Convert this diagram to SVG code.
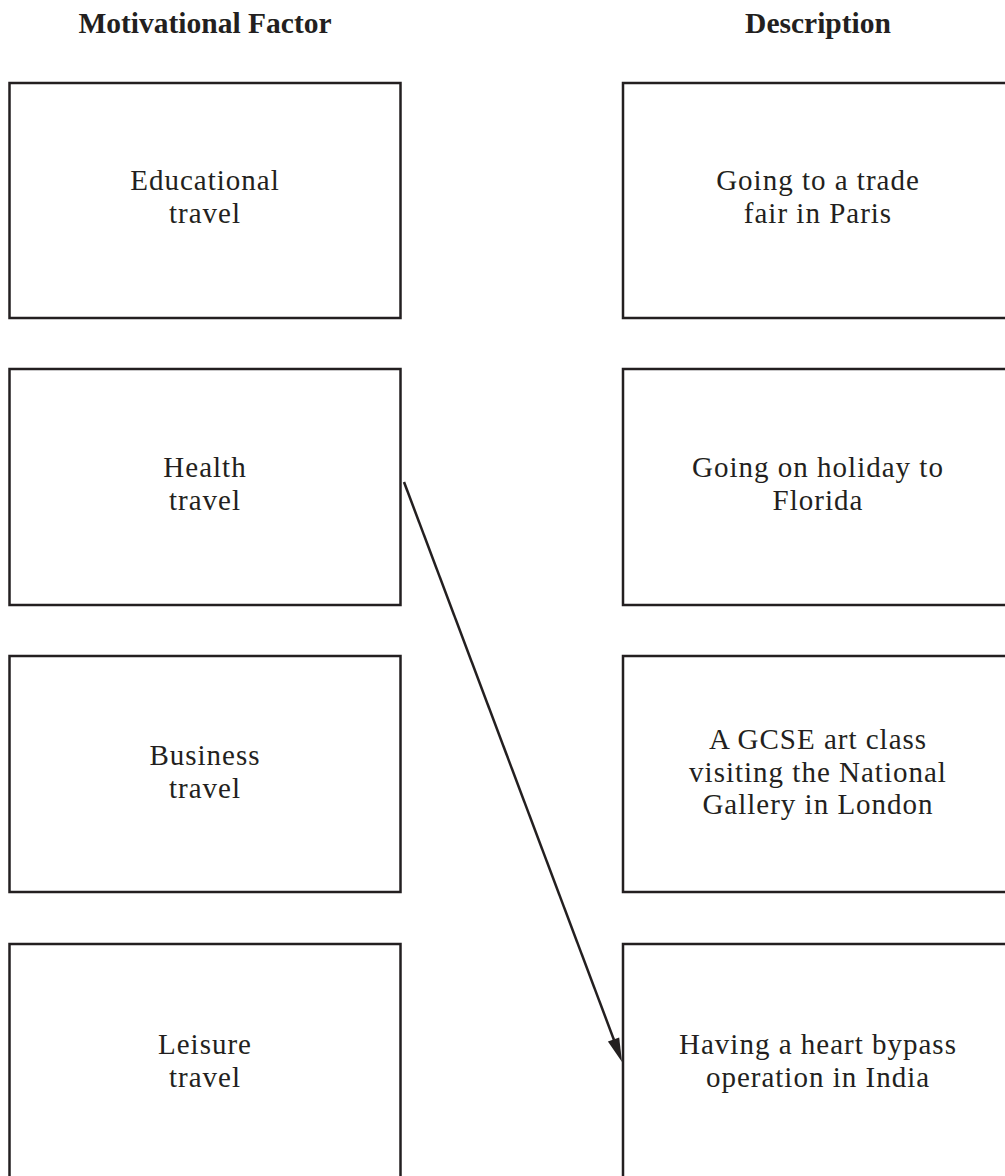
<svg xmlns="http://www.w3.org/2000/svg" width="1005" height="1176" viewBox="0 0 1005 1176">
<style>
.box{fill:#fff;stroke:#231f20;stroke-width:2.5}
.hdr{font-family:"Liberation Serif",serif;font-weight:bold;font-size:29.5px;fill:#231f20;text-anchor:middle}
.lbl{font-family:"Liberation Serif",serif;font-size:29px;letter-spacing:1px;fill:#231f20;text-anchor:middle}
.conn{stroke:#231f20;stroke-width:2.5;fill:none}
</style>
<rect width="1005" height="1176" fill="#fff"/>
<text class="hdr" x="205" y="33">Motivational Factor</text>
<text class="hdr" x="818" y="33">Description</text>
<g id="n-educational"><rect class="box" x="9.5" y="83" width="391" height="235"/><text class="lbl" x="205" y="190">Educational</text><text class="lbl" x="205" y="222.5">travel</text></g>
<g id="n-health"><rect class="box" x="9.5" y="369" width="391" height="236"/><text class="lbl" x="205" y="477">Health</text><text class="lbl" x="205" y="509.5">travel</text></g>
<g id="n-business"><rect class="box" x="9.5" y="656" width="391" height="236"/><text class="lbl" x="205" y="765">Business</text><text class="lbl" x="205" y="797.5">travel</text></g>
<g id="n-leisure"><rect class="box" x="9.5" y="944" width="391" height="260"/><text class="lbl" x="205" y="1054">Leisure</text><text class="lbl" x="205" y="1086.5">travel</text></g>
<g id="n-trade"><rect class="box" x="623" y="83" width="391" height="235"/><text class="lbl" x="818" y="190">Going to a trade</text><text class="lbl" x="818" y="222.5">fair in Paris</text></g>
<g id="n-florida"><rect class="box" x="623" y="369" width="391" height="236"/><text class="lbl" x="818" y="477">Going on holiday to</text><text class="lbl" x="818" y="509.5">Florida</text></g>
<g id="n-gallery"><rect class="box" x="623" y="656" width="391" height="236"/><text class="lbl" x="818" y="749">A GCSE art class</text><text class="lbl" x="818" y="781.5">visiting the National</text><text class="lbl" x="818" y="814">Gallery in London</text></g>
<g id="n-heart"><rect class="box" x="623" y="944" width="391" height="260"/><text class="lbl" x="818" y="1054">Having a heart bypass</text><text class="lbl" x="818" y="1086.5">operation in India</text></g>
<g id="connectors">
<path class="conn" d="M404,482 L614,1040"/>
<path d="M622,1062 L607.9,1041.6 L619.2,1037.4 Z" fill="#231f20"/>
</g>
</svg>
